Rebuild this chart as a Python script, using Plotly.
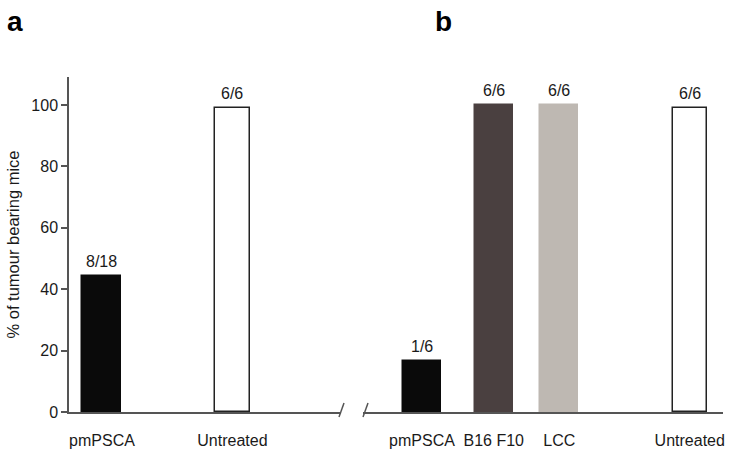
import plotly.graph_objects as go

# Datos panel a
cats_a = ["pmPSCA", "Untreated"]
vals_a = [44.4, 99]
labels_a = ["8/18", "6/6"]
pos_a = [1, 2.89]

# Datos panel b
cats_b = ["pmPSCA", "B16 F10", "LCC", "Untreated"]
vals_b = [16.7, 100, 100, 99]
labels_b = ["1/6", "6/6", "6/6", "6/6"]
pos_b = [1, 2.04, 2.99, 4.88]

fill_a = ["#0a0a0a", "white"]
fill_b = ["#0a0a0a", "#4a4040", "#beb8b2", "white"]
line_a = ["#0a0a0a", "#222222"]
line_b = ["#0a0a0a", "#4a4040", "#beb8b2", "#222222"]
width_a = [0.565, 0.5]
width_b = [0.565, 0.55, 0.55, 0.49]

W, H = 733, 459
FONT = "Liberation Sans, Arial, sans-serif"
axis_col = "#555555"
txt_col = "#1a1a1a"

fig = go.Figure()

fig.add_trace(go.Bar(
    x=pos_a, y=vals_a, width=width_a,
    marker=dict(color=fill_a, line=dict(color=line_a, width=1.5)),
    xaxis="x", yaxis="y", showlegend=False,
))
fig.add_trace(go.Bar(
    x=pos_b, y=vals_b, width=width_b,
    marker=dict(color=fill_b, line=dict(color=line_b, width=1.5)),
    xaxis="x2", yaxis="y2", showlegend=False,
))

# etiquetas n/N encima de las barras
for xa, ya, xs, vs, ls in [("x", "y", pos_a, vals_a, labels_a),
                           ("x2", "y2", pos_b, vals_b, labels_b)]:
    for xv, yv, lab in zip(xs, vs, ls):
        fig.add_annotation(x=xv, y=yv, text=lab, xref=xa, yref=ya,
                           yanchor="bottom", yshift=4, showarrow=False,
                           font=dict(size=16, color=txt_col, family=FONT))

# dominios en fracción del área de trazado (654 px)
dom_a = [0, 272 / 654]
dom_b = [294 / 654, 1]

xcommon = dict(
    showgrid=False, zeroline=False, showline=True, linecolor=axis_col,
    linewidth=1.5, ticks="", ticklabelstandoff=13, automargin=False,
    tickfont=dict(size=16, color=txt_col, family=FONT),
)

fig.update_layout(
    width=W, height=H,
    margin=dict(l=69, r=10, t=77, b=47),
    plot_bgcolor="white", paper_bgcolor="white",
    font=dict(family=FONT, color=txt_col),
    bargap=0,
    xaxis=dict(domain=dom_a, range=[0.522, 4.464], tickvals=pos_a,
               ticktext=cats_a, anchor="y", **xcommon),
    xaxis2=dict(domain=dom_b, range=[0.145, 5.362], tickvals=pos_b,
                ticktext=cats_b, anchor="y2", **xcommon),
    yaxis=dict(range=[0, 109.1], tickvals=[0, 20, 40, 60, 80, 100],
               showgrid=False, zeroline=False, showline=True,
               linecolor=axis_col, linewidth=1.5, ticks="outside",
               ticklen=6, tickcolor=axis_col, tickwidth=1.5,
               automargin=False,
               tickfont=dict(size=16, color=txt_col, family=FONT),
               title=dict(text="% of tumour bearing mice", standoff=8,
                          font=dict(size=16.5, color=txt_col, family=FONT))),
    yaxis2=dict(range=[0, 109.1], showgrid=False, zeroline=False,
                showline=False, showticklabels=False, anchor="x2",
                automargin=False),
)

# marcas de corte del eje
fig.add_shape(type="line", xref="paper", yref="paper",
              x0=(339 - 69) / 654, x1=(344 - 69) / 654,
              y0=-5 / 335, y1=9 / 335, line=dict(color=axis_col, width=1.5))
fig.add_shape(type="line", xref="paper", yref="paper",
              x0=(363 - 69) / 654, x1=(368 - 69) / 654,
              y0=-5 / 335, y1=9 / 335, line=dict(color=axis_col, width=1.5))

# letras de panel
for letter, px in [("a", 5), ("b", 433)]:
    fig.add_annotation(text="<b>%s</b>" % letter, xref="paper", yref="paper",
                       x=(px - 69) / 654, y=1 + (77 - 4) / 335,
                       xanchor="left", yanchor="top", showarrow=False,
                       font=dict(size=28, color="#000000", family=FONT))

fig.write_html("out.html", config={"displayModeBar": False},
               post_script="document.body.style.margin='0';")
